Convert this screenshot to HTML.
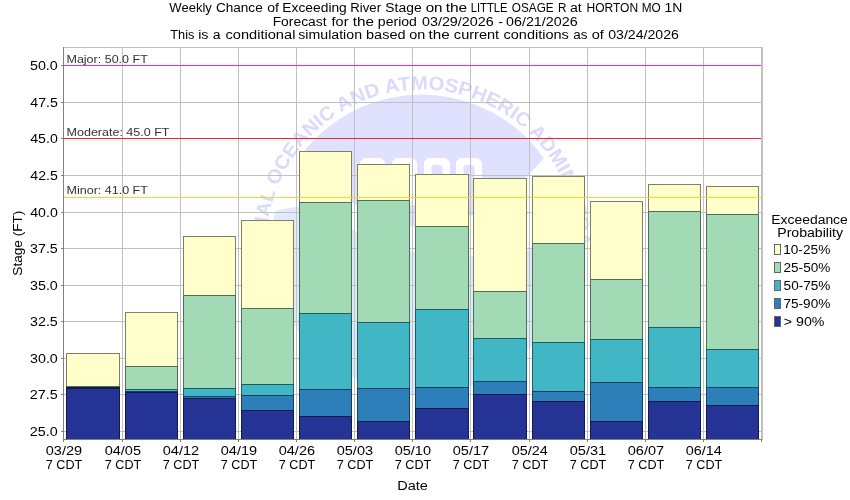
<!DOCTYPE html><html><head><meta charset="utf-8"><style>html,body{margin:0;padding:0;background:#fff;width:850px;height:500px;overflow:hidden}svg{display:block;will-change:transform}text{font-family:"Liberation Sans",sans-serif}</style></head><body>
<svg width="850" height="500" viewBox="0 0 850 500">
<rect x="0" y="0" width="850" height="500" fill="#ffffff"/>
<defs><clipPath id="pc"><rect x="64" y="48" width="697" height="391"/></clipPath><path id="arc" d="M 266.4 244.6 A 155 155 0 0 1 576.4 244.6"/></defs>
<g clip-path="url(#pc)">
<clipPath id="dc"><circle cx="421.4" cy="244.6" r="150"/></clipPath>
<g clip-path="url(#dc)">
<path d="M 200 60 L 650 60 L 650 150 L 546 156 Q 420 300 300 152 L 200 140 Z" fill="#e0e0ff"/>
<path d="M 200 222 L 268 214 Q 300 200 330 215 Q 430 290 600 230 L 650 450 L 200 450 Z" fill="#dfeafa"/>
</g>
<path d="M 360 162 L 364 158 L 381 158 L 385 162 L 385 205 L 360 205 Z" fill="#ffffff"/>
<path d="M 367.5 167 L 369.5 165 L 375.5 165 L 377.5 167 L 377.5 210 L 367.5 210 Z" fill="#e0e0ff"/>
<path d="M 392 162 L 396 158 L 413 158 L 417 162 L 417 205 L 392 205 Z" fill="#ffffff"/>
<path d="M 399.5 167 L 401.5 165 L 407.5 165 L 409.5 167 L 409.5 210 L 399.5 210 Z" fill="#e0e0ff"/>
<path d="M 424 162 L 428 158 L 446 158 L 450 162 L 450 205 L 424 205 Z" fill="#ffffff"/>
<path d="M 431.5 167 L 433.5 165 L 440.5 165 L 442.5 167 L 442.5 210 L 431.5 210 Z" fill="#e0e0ff"/>
<path d="M 456 162 L 460 158 L 478 158 L 482 162 L 482 205 L 456 205 Z" fill="#ffffff"/>
<path d="M 463.5 167 L 465.5 165 L 472.5 165 L 474.5 167 L 474.5 210 L 463.5 210 Z" fill="#e0e0ff"/>
<text font-weight="bold" font-size="19.5" fill="#dadafc"><textPath href="#arc" startOffset="50%" text-anchor="middle" textLength="585" lengthAdjust="spacingAndGlyphs">NATIONAL OCEANIC AND ATMOSPHERIC ADMINISTRATION</textPath></text>
</g>
<g shape-rendering="crispEdges" stroke="#c0c0c0" stroke-width="1">
<line x1="64" y1="65.5" x2="761" y2="65.5"/>
<line x1="64" y1="102.5" x2="761" y2="102.5"/>
<line x1="64" y1="138.5" x2="761" y2="138.5"/>
<line x1="64" y1="175.5" x2="761" y2="175.5"/>
<line x1="64" y1="212.5" x2="761" y2="212.5"/>
<line x1="64" y1="248.5" x2="761" y2="248.5"/>
<line x1="64" y1="285.5" x2="761" y2="285.5"/>
<line x1="64" y1="321.5" x2="761" y2="321.5"/>
<line x1="64" y1="358.5" x2="761" y2="358.5"/>
<line x1="64" y1="394.5" x2="761" y2="394.5"/>
<line x1="64" y1="431.5" x2="761" y2="431.5"/>
<line x1="122.5" y1="48" x2="122.5" y2="439"/>
<line x1="180.5" y1="48" x2="180.5" y2="439"/>
<line x1="238.5" y1="48" x2="238.5" y2="439"/>
<line x1="296.5" y1="48" x2="296.5" y2="439"/>
<line x1="354.5" y1="48" x2="354.5" y2="439"/>
<line x1="412.5" y1="48" x2="412.5" y2="439"/>
<line x1="470.5" y1="48" x2="470.5" y2="439"/>
<line x1="529.5" y1="48" x2="529.5" y2="439"/>
<line x1="587.5" y1="48" x2="587.5" y2="439"/>
<line x1="645.5" y1="48" x2="645.5" y2="439"/>
<line x1="703.5" y1="48" x2="703.5" y2="439"/>
</g>
<g shape-rendering="crispEdges">
<rect x="63" y="47" width="700" height="1" fill="#c0c0c0"/>
<rect x="761" y="47" width="2" height="393" fill="#c0c0c0"/>
</g>
<g shape-rendering="crispEdges" stroke="#000000" stroke-opacity="0.5" stroke-width="1">
<rect x="66" y="353" width="54" height="34" fill="#ffffcc" stroke="none"/>
<rect x="66.5" y="353.5" width="53" height="33" fill="none"/>
<rect x="66" y="386" width="54" height="2" fill="#a1dab4" stroke="none"/>
<rect x="66.5" y="386.5" width="53" height="1" fill="none"/>
<rect x="66" y="387" width="54" height="2" fill="#41b6c4" stroke="none"/>
<rect x="66.5" y="387.5" width="53" height="1" fill="none"/>
<line x1="66" y1="388.5" x2="120" y2="388.5"/>
<rect x="66" y="388" width="54" height="52" fill="#253494" stroke="none"/>
<rect x="66.5" y="388.5" width="53" height="51" fill="none"/>
<rect x="125" y="312" width="53" height="55" fill="#ffffcc" stroke="none"/>
<rect x="125.5" y="312.5" width="52" height="54" fill="none"/>
<rect x="125" y="366" width="53" height="24" fill="#a1dab4" stroke="none"/>
<rect x="125.5" y="366.5" width="52" height="23" fill="none"/>
<rect x="125" y="389" width="53" height="3" fill="#41b6c4" stroke="none"/>
<rect x="125.5" y="389.5" width="52" height="2" fill="none"/>
<rect x="125" y="391" width="53" height="2" fill="#2c7fb8" stroke="none"/>
<rect x="125.5" y="391.5" width="52" height="1" fill="none"/>
<rect x="125" y="392" width="53" height="48" fill="#253494" stroke="none"/>
<rect x="125.5" y="392.5" width="52" height="47" fill="none"/>
<rect x="183" y="236" width="53" height="60" fill="#ffffcc" stroke="none"/>
<rect x="183.5" y="236.5" width="52" height="59" fill="none"/>
<rect x="183" y="295" width="53" height="94" fill="#a1dab4" stroke="none"/>
<rect x="183.5" y="295.5" width="52" height="93" fill="none"/>
<rect x="183" y="388" width="53" height="9" fill="#41b6c4" stroke="none"/>
<rect x="183.5" y="388.5" width="52" height="8" fill="none"/>
<rect x="183" y="396" width="53" height="3" fill="#2c7fb8" stroke="none"/>
<rect x="183.5" y="396.5" width="52" height="2" fill="none"/>
<rect x="183" y="398" width="53" height="42" fill="#253494" stroke="none"/>
<rect x="183.5" y="398.5" width="52" height="41" fill="none"/>
<rect x="241" y="220" width="53" height="89" fill="#ffffcc" stroke="none"/>
<rect x="241.5" y="220.5" width="52" height="88" fill="none"/>
<rect x="241" y="308" width="53" height="77" fill="#a1dab4" stroke="none"/>
<rect x="241.5" y="308.5" width="52" height="76" fill="none"/>
<rect x="241" y="384" width="53" height="12" fill="#41b6c4" stroke="none"/>
<rect x="241.5" y="384.5" width="52" height="11" fill="none"/>
<rect x="241" y="395" width="53" height="16" fill="#2c7fb8" stroke="none"/>
<rect x="241.5" y="395.5" width="52" height="15" fill="none"/>
<rect x="241" y="410" width="53" height="30" fill="#253494" stroke="none"/>
<rect x="241.5" y="410.5" width="52" height="29" fill="none"/>
<rect x="299" y="151" width="53" height="52" fill="#ffffcc" stroke="none"/>
<rect x="299.5" y="151.5" width="52" height="51" fill="none"/>
<rect x="299" y="202" width="53" height="112" fill="#a1dab4" stroke="none"/>
<rect x="299.5" y="202.5" width="52" height="111" fill="none"/>
<rect x="299" y="313" width="53" height="77" fill="#41b6c4" stroke="none"/>
<rect x="299.5" y="313.5" width="52" height="76" fill="none"/>
<rect x="299" y="389" width="53" height="28" fill="#2c7fb8" stroke="none"/>
<rect x="299.5" y="389.5" width="52" height="27" fill="none"/>
<rect x="299" y="416" width="53" height="24" fill="#253494" stroke="none"/>
<rect x="299.5" y="416.5" width="52" height="23" fill="none"/>
<rect x="357" y="164" width="53" height="37" fill="#ffffcc" stroke="none"/>
<rect x="357.5" y="164.5" width="52" height="36" fill="none"/>
<rect x="357" y="200" width="53" height="123" fill="#a1dab4" stroke="none"/>
<rect x="357.5" y="200.5" width="52" height="122" fill="none"/>
<rect x="357" y="322" width="53" height="67" fill="#41b6c4" stroke="none"/>
<rect x="357.5" y="322.5" width="52" height="66" fill="none"/>
<rect x="357" y="388" width="53" height="34" fill="#2c7fb8" stroke="none"/>
<rect x="357.5" y="388.5" width="52" height="33" fill="none"/>
<rect x="357" y="421" width="53" height="19" fill="#253494" stroke="none"/>
<rect x="357.5" y="421.5" width="52" height="18" fill="none"/>
<rect x="415" y="174" width="54" height="53" fill="#ffffcc" stroke="none"/>
<rect x="415.5" y="174.5" width="53" height="52" fill="none"/>
<rect x="415" y="226" width="54" height="84" fill="#a1dab4" stroke="none"/>
<rect x="415.5" y="226.5" width="53" height="83" fill="none"/>
<rect x="415" y="309" width="54" height="79" fill="#41b6c4" stroke="none"/>
<rect x="415.5" y="309.5" width="53" height="78" fill="none"/>
<rect x="415" y="387" width="54" height="22" fill="#2c7fb8" stroke="none"/>
<rect x="415.5" y="387.5" width="53" height="21" fill="none"/>
<rect x="415" y="408" width="54" height="32" fill="#253494" stroke="none"/>
<rect x="415.5" y="408.5" width="53" height="31" fill="none"/>
<rect x="473" y="178" width="54" height="114" fill="#ffffcc" stroke="none"/>
<rect x="473.5" y="178.5" width="53" height="113" fill="none"/>
<rect x="473" y="291" width="54" height="48" fill="#a1dab4" stroke="none"/>
<rect x="473.5" y="291.5" width="53" height="47" fill="none"/>
<rect x="473" y="338" width="54" height="44" fill="#41b6c4" stroke="none"/>
<rect x="473.5" y="338.5" width="53" height="43" fill="none"/>
<rect x="473" y="381" width="54" height="14" fill="#2c7fb8" stroke="none"/>
<rect x="473.5" y="381.5" width="53" height="13" fill="none"/>
<rect x="473" y="394" width="54" height="46" fill="#253494" stroke="none"/>
<rect x="473.5" y="394.5" width="53" height="45" fill="none"/>
<rect x="532" y="176" width="53" height="68" fill="#ffffcc" stroke="none"/>
<rect x="532.5" y="176.5" width="52" height="67" fill="none"/>
<rect x="532" y="243" width="53" height="100" fill="#a1dab4" stroke="none"/>
<rect x="532.5" y="243.5" width="52" height="99" fill="none"/>
<rect x="532" y="342" width="53" height="50" fill="#41b6c4" stroke="none"/>
<rect x="532.5" y="342.5" width="52" height="49" fill="none"/>
<rect x="532" y="391" width="53" height="11" fill="#2c7fb8" stroke="none"/>
<rect x="532.5" y="391.5" width="52" height="10" fill="none"/>
<rect x="532" y="401" width="53" height="39" fill="#253494" stroke="none"/>
<rect x="532.5" y="401.5" width="52" height="38" fill="none"/>
<rect x="590" y="201" width="53" height="79" fill="#ffffcc" stroke="none"/>
<rect x="590.5" y="201.5" width="52" height="78" fill="none"/>
<rect x="590" y="279" width="53" height="61" fill="#a1dab4" stroke="none"/>
<rect x="590.5" y="279.5" width="52" height="60" fill="none"/>
<rect x="590" y="339" width="53" height="44" fill="#41b6c4" stroke="none"/>
<rect x="590.5" y="339.5" width="52" height="43" fill="none"/>
<rect x="590" y="382" width="53" height="40" fill="#2c7fb8" stroke="none"/>
<rect x="590.5" y="382.5" width="52" height="39" fill="none"/>
<rect x="590" y="421" width="53" height="19" fill="#253494" stroke="none"/>
<rect x="590.5" y="421.5" width="52" height="18" fill="none"/>
<rect x="648" y="184" width="53" height="28" fill="#ffffcc" stroke="none"/>
<rect x="648.5" y="184.5" width="52" height="27" fill="none"/>
<rect x="648" y="211" width="53" height="117" fill="#a1dab4" stroke="none"/>
<rect x="648.5" y="211.5" width="52" height="116" fill="none"/>
<rect x="648" y="327" width="53" height="61" fill="#41b6c4" stroke="none"/>
<rect x="648.5" y="327.5" width="52" height="60" fill="none"/>
<rect x="648" y="387" width="53" height="15" fill="#2c7fb8" stroke="none"/>
<rect x="648.5" y="387.5" width="52" height="14" fill="none"/>
<rect x="648" y="401" width="53" height="39" fill="#253494" stroke="none"/>
<rect x="648.5" y="401.5" width="52" height="38" fill="none"/>
<rect x="706" y="186" width="53" height="29" fill="#ffffcc" stroke="none"/>
<rect x="706.5" y="186.5" width="52" height="28" fill="none"/>
<rect x="706" y="214" width="53" height="136" fill="#a1dab4" stroke="none"/>
<rect x="706.5" y="214.5" width="52" height="135" fill="none"/>
<rect x="706" y="349" width="53" height="39" fill="#41b6c4" stroke="none"/>
<rect x="706.5" y="349.5" width="52" height="38" fill="none"/>
<rect x="706" y="387" width="53" height="19" fill="#2c7fb8" stroke="none"/>
<rect x="706.5" y="387.5" width="52" height="18" fill="none"/>
<rect x="706" y="405" width="53" height="35" fill="#253494" stroke="none"/>
<rect x="706.5" y="405.5" width="52" height="34" fill="none"/>
<line x1="66" y1="387.5" x2="120" y2="387.5" stroke-opacity="0.6"/>
</g>
<g shape-rendering="crispEdges">
<rect x="64" y="65" width="697" height="1" fill="#f020f0"/>
<rect x="64" y="138" width="697" height="1" fill="#f02328"/>
<rect x="64" y="197" width="697" height="1" fill="#ffd232"/>
</g>
<g shape-rendering="crispEdges" fill="#808080">
<rect x="63" y="47" width="1" height="395"/>
<rect x="63" y="439" width="699" height="1"/>
<rect x="61" y="65" width="2" height="1"/>
<rect x="61" y="102" width="2" height="1"/>
<rect x="61" y="138" width="2" height="1"/>
<rect x="61" y="175" width="2" height="1"/>
<rect x="61" y="212" width="2" height="1"/>
<rect x="61" y="248" width="2" height="1"/>
<rect x="61" y="285" width="2" height="1"/>
<rect x="61" y="321" width="2" height="1"/>
<rect x="61" y="358" width="2" height="1"/>
<rect x="61" y="394" width="2" height="1"/>
<rect x="61" y="431" width="2" height="1"/>
<rect x="63" y="440" width="1" height="2"/>
<rect x="122" y="440" width="1" height="2"/>
<rect x="180" y="440" width="1" height="2"/>
<rect x="238" y="440" width="1" height="2"/>
<rect x="296" y="440" width="1" height="2"/>
<rect x="354" y="440" width="1" height="2"/>
<rect x="412" y="440" width="1" height="2"/>
<rect x="470" y="440" width="1" height="2"/>
<rect x="529" y="440" width="1" height="2"/>
<rect x="587" y="440" width="1" height="2"/>
<rect x="645" y="440" width="1" height="2"/>
<rect x="703" y="440" width="1" height="2"/>
<rect x="761" y="440" width="1" height="2"/>
</g>
<text x="169.33" y="12.1" font-size="12" textLength="42.52" lengthAdjust="spacingAndGlyphs">Weekly</text>
<text x="215.92" y="12.1" font-size="12" textLength="46.81" lengthAdjust="spacingAndGlyphs">Chance</text>
<text x="267.31" y="12.1" font-size="12" textLength="11.68" lengthAdjust="spacingAndGlyphs">of</text>
<text x="282.37" y="12.1" font-size="12" textLength="64.44" lengthAdjust="spacingAndGlyphs">Exceeding</text>
<text x="350.33" y="12.1" font-size="12" textLength="30.7" lengthAdjust="spacingAndGlyphs">River</text>
<text x="385.35" y="12.1" font-size="12" textLength="36.27" lengthAdjust="spacingAndGlyphs">Stage</text>
<text x="425.66" y="12.1" font-size="12" textLength="16.95" lengthAdjust="spacingAndGlyphs">on</text>
<text x="445.67" y="12.1" font-size="12" textLength="21.53" lengthAdjust="spacingAndGlyphs">the</text>
<text x="470.78" y="12.1" font-size="12" textLength="36.71" lengthAdjust="spacingAndGlyphs">LITTLE</text>
<text x="511.84" y="12.1" font-size="12" textLength="41.86" lengthAdjust="spacingAndGlyphs">OSAGE</text>
<text x="558.04" y="12.1" font-size="12" textLength="8.44" lengthAdjust="spacingAndGlyphs">R</text>
<text x="570.0" y="12.1" font-size="12" textLength="11.81" lengthAdjust="spacingAndGlyphs">at</text>
<text x="586.51" y="12.1" font-size="12" textLength="51.58" lengthAdjust="spacingAndGlyphs">HORTON</text>
<text x="641.73" y="12.1" font-size="12" textLength="19.05" lengthAdjust="spacingAndGlyphs">MO</text>
<text x="664.64" y="12.1" font-size="12" textLength="17.8" lengthAdjust="spacingAndGlyphs">1N</text>
<text x="272.65" y="25.7" font-size="12" textLength="53.96" lengthAdjust="spacingAndGlyphs">Forecast</text>
<text x="331.6" y="25.7" font-size="12" textLength="16.86" lengthAdjust="spacingAndGlyphs">for</text>
<text x="352.67" y="25.7" font-size="12" textLength="21.22" lengthAdjust="spacingAndGlyphs">the</text>
<text x="377.89" y="25.7" font-size="12" textLength="39.02" lengthAdjust="spacingAndGlyphs">period</text>
<text x="422.03" y="25.7" font-size="12" textLength="71.59" lengthAdjust="spacingAndGlyphs">03/29/2026</text>
<text x="498.34" y="25.7" font-size="12" textLength="4.91" lengthAdjust="spacingAndGlyphs">-</text>
<text x="506.03" y="25.7" font-size="12" textLength="71.59" lengthAdjust="spacingAndGlyphs">06/21/2026</text>
<text x="170.31" y="39.4" font-size="12" textLength="24.15" lengthAdjust="spacingAndGlyphs">This</text>
<text x="198.15" y="39.4" font-size="12" textLength="10.27" lengthAdjust="spacingAndGlyphs">is</text>
<text x="212.8" y="39.4" font-size="12" textLength="7.81" lengthAdjust="spacingAndGlyphs">a</text>
<text x="225.49" y="39.4" font-size="12" textLength="69.9" lengthAdjust="spacingAndGlyphs">conditional</text>
<text x="298.27" y="39.4" font-size="12" textLength="63.75" lengthAdjust="spacingAndGlyphs">simulation</text>
<text x="366.06" y="39.4" font-size="12" textLength="39.49" lengthAdjust="spacingAndGlyphs">based</text>
<text x="409.19" y="39.4" font-size="12" textLength="16.06" lengthAdjust="spacingAndGlyphs">on</text>
<text x="428.57" y="39.4" font-size="12" textLength="21.22" lengthAdjust="spacingAndGlyphs">the</text>
<text x="453.88" y="39.4" font-size="12" textLength="45.24" lengthAdjust="spacingAndGlyphs">current</text>
<text x="503.57" y="39.4" font-size="12" textLength="65.27" lengthAdjust="spacingAndGlyphs">conditions</text>
<text x="573.23" y="39.4" font-size="12" textLength="14.17" lengthAdjust="spacingAndGlyphs">as</text>
<text x="591.79" y="39.4" font-size="12" textLength="12.1" lengthAdjust="spacingAndGlyphs">of</text>
<text x="608.24" y="39.4" font-size="12" textLength="70.68" lengthAdjust="spacingAndGlyphs">03/24/2026</text>
<text x="30.01" y="69.7" font-size="12" textLength="27.76" lengthAdjust="spacingAndGlyphs">50.0</text>
<text x="30.28" y="106.7" font-size="12" textLength="27.52" lengthAdjust="spacingAndGlyphs">47.5</text>
<text x="30.28" y="142.7" font-size="12" textLength="27.48" lengthAdjust="spacingAndGlyphs">45.0</text>
<text x="30.28" y="179.7" font-size="12" textLength="27.52" lengthAdjust="spacingAndGlyphs">42.5</text>
<text x="30.28" y="216.7" font-size="12" textLength="27.48" lengthAdjust="spacingAndGlyphs">40.0</text>
<text x="30.04" y="252.7" font-size="12" textLength="27.76" lengthAdjust="spacingAndGlyphs">37.5</text>
<text x="30.05" y="289.7" font-size="12" textLength="27.72" lengthAdjust="spacingAndGlyphs">35.0</text>
<text x="30.04" y="325.7" font-size="12" textLength="27.76" lengthAdjust="spacingAndGlyphs">32.5</text>
<text x="30.05" y="362.7" font-size="12" textLength="27.72" lengthAdjust="spacingAndGlyphs">30.0</text>
<text x="29.88" y="398.7" font-size="12" textLength="27.93" lengthAdjust="spacingAndGlyphs">27.5</text>
<text x="29.88" y="435.7" font-size="12" textLength="27.89" lengthAdjust="spacingAndGlyphs">25.0</text>
<text x="45.72" y="454.8" font-size="12" textLength="36.37" lengthAdjust="spacingAndGlyphs">03/29</text>
<text x="45.85" y="468.8" font-size="12" textLength="36.44" lengthAdjust="spacingAndGlyphs">7 CDT</text>
<text x="104.73" y="454.8" font-size="12" textLength="36.29" lengthAdjust="spacingAndGlyphs">04/05</text>
<text x="104.85" y="468.8" font-size="12" textLength="36.44" lengthAdjust="spacingAndGlyphs">7 CDT</text>
<text x="162.72" y="454.8" font-size="12" textLength="36.4" lengthAdjust="spacingAndGlyphs">04/12</text>
<text x="162.85" y="468.8" font-size="12" textLength="36.44" lengthAdjust="spacingAndGlyphs">7 CDT</text>
<text x="220.72" y="454.8" font-size="12" textLength="36.37" lengthAdjust="spacingAndGlyphs">04/19</text>
<text x="220.85" y="468.8" font-size="12" textLength="36.44" lengthAdjust="spacingAndGlyphs">7 CDT</text>
<text x="278.73" y="454.8" font-size="12" textLength="36.31" lengthAdjust="spacingAndGlyphs">04/26</text>
<text x="278.85" y="468.8" font-size="12" textLength="36.44" lengthAdjust="spacingAndGlyphs">7 CDT</text>
<text x="336.73" y="454.8" font-size="12" textLength="36.31" lengthAdjust="spacingAndGlyphs">05/03</text>
<text x="336.85" y="468.8" font-size="12" textLength="36.44" lengthAdjust="spacingAndGlyphs">7 CDT</text>
<text x="394.73" y="454.8" font-size="12" textLength="36.25" lengthAdjust="spacingAndGlyphs">05/10</text>
<text x="394.85" y="468.8" font-size="12" textLength="36.44" lengthAdjust="spacingAndGlyphs">7 CDT</text>
<text x="452.72" y="454.8" font-size="12" textLength="36.4" lengthAdjust="spacingAndGlyphs">05/17</text>
<text x="452.85" y="468.8" font-size="12" textLength="36.44" lengthAdjust="spacingAndGlyphs">7 CDT</text>
<text x="511.73" y="454.8" font-size="12" textLength="36.09" lengthAdjust="spacingAndGlyphs">05/24</text>
<text x="511.85" y="468.8" font-size="12" textLength="36.44" lengthAdjust="spacingAndGlyphs">7 CDT</text>
<text x="569.72" y="454.8" font-size="12" textLength="36.39" lengthAdjust="spacingAndGlyphs">05/31</text>
<text x="569.85" y="468.8" font-size="12" textLength="36.44" lengthAdjust="spacingAndGlyphs">7 CDT</text>
<text x="627.72" y="454.8" font-size="12" textLength="36.4" lengthAdjust="spacingAndGlyphs">06/07</text>
<text x="627.85" y="468.8" font-size="12" textLength="36.44" lengthAdjust="spacingAndGlyphs">7 CDT</text>
<text x="685.73" y="454.8" font-size="12" textLength="36.09" lengthAdjust="spacingAndGlyphs">06/14</text>
<text x="685.85" y="468.8" font-size="12" textLength="36.44" lengthAdjust="spacingAndGlyphs">7 CDT</text>
<text x="397.31" y="490" font-size="12" textLength="30.65" lengthAdjust="spacingAndGlyphs">Date</text>
<text x="66.48" y="62.7" font-size="10.5" fill="#333" textLength="81.32" lengthAdjust="spacingAndGlyphs">Major: 50.0 FT</text>
<text x="66.57" y="136" font-size="10.5" fill="#333" textLength="102.93" lengthAdjust="spacingAndGlyphs">Moderate: 45.0 FT</text>
<text x="66.58" y="193.6" font-size="10.5" fill="#333" textLength="81.32" lengthAdjust="spacingAndGlyphs">Minor: 41.0 FT</text>
<text x="771.25" y="223.8" font-size="12" textLength="76.55" lengthAdjust="spacingAndGlyphs">Exceedance</text>
<text x="777.25" y="237.4" font-size="12" textLength="65.81" lengthAdjust="spacingAndGlyphs">Probability</text>
<text x="783.16" y="253.6" font-size="12" textLength="47.15" lengthAdjust="spacingAndGlyphs">10-25%</text>
<text x="783.52" y="271.6" font-size="12" textLength="46.79" lengthAdjust="spacingAndGlyphs">25-50%</text>
<text x="783.64" y="289.6" font-size="12" textLength="46.67" lengthAdjust="spacingAndGlyphs">50-75%</text>
<text x="783.5" y="307.6" font-size="12" textLength="46.81" lengthAdjust="spacingAndGlyphs">75-90%</text>
<text x="783.81" y="325.6" font-size="12" textLength="40.6" lengthAdjust="spacingAndGlyphs">&gt; 90%</text>
<text transform="translate(22.4,0) rotate(-90)" x="-243.14999999999998" y="0" font-size="12" text-anchor="middle" textLength="65.02" lengthAdjust="spacingAndGlyphs">Stage (FT)</text>
<rect x="774.5" y="244.5" width="6" height="10" fill="#ffffcc" stroke="#666" stroke-width="1" shape-rendering="crispEdges"/>
<rect x="774.5" y="262.5" width="6" height="10" fill="#a1dab4" stroke="#666" stroke-width="1" shape-rendering="crispEdges"/>
<rect x="774.5" y="280.5" width="6" height="10" fill="#41b6c4" stroke="#666" stroke-width="1" shape-rendering="crispEdges"/>
<rect x="774.5" y="298.5" width="6" height="10" fill="#2c7fb8" stroke="#666" stroke-width="1" shape-rendering="crispEdges"/>
<rect x="774.5" y="316.5" width="6" height="10" fill="#253494" stroke="#666" stroke-width="1" shape-rendering="crispEdges"/>
</svg></body></html>
